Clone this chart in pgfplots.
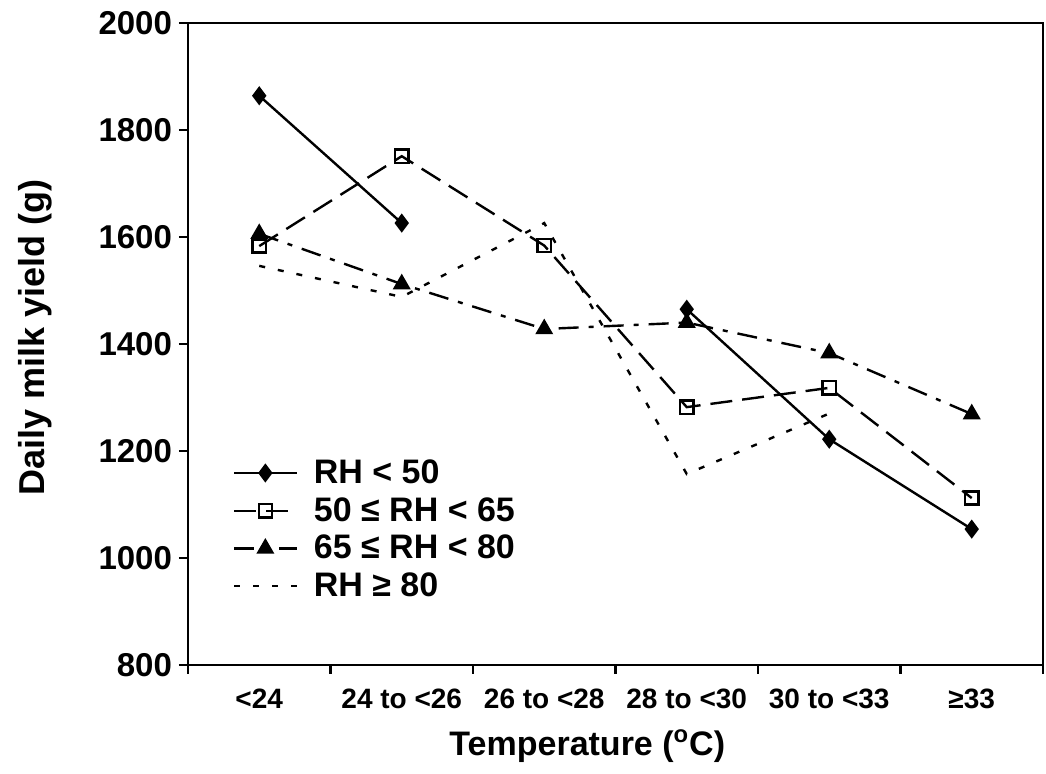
\documentclass[border=0pt]{standalone}
\usepackage{fontspec}
\setmainfont{Liberation Sans}
\usepackage{pgfplots}
\usepackage{pgfplotstable}
\pgfplotsset{compat=1.18}
\pgfplotstableread{
x a b c d
0 1864 1583 1606 1546
1 1626 1751 1512 1488
2 nan 1584 1428 1626
3 1465 1282 1440 1157
4 1222 1318 1383 1270
5 1054 1112 1269 nan
}\milk
\begin{document}
\begin{tikzpicture}
\path (-94pt,-54.5pt) rectangle (429pt,332.5pt);
\begin{axis}[
  at={(0,0)}, anchor=south west,
  scale only axis, width=427.5pt, height=321pt,
  xmin=-0.5, xmax=5.5, ymin=800, ymax=2000,
  xtick={0,...,5},
  xticklabels={{<24},{24 to <26},{26 to <28},{28 to <30},{30 to <33},{≥33}},
  major x tick style={draw=none},
  minor xtick={-0.5,0.5,...,5.5},
  ytick={800,1000,...,2000},
  tick align=outside, tick pos=left,
  major tick length=4.5pt, minor tick length=4.5pt,
  every tick/.style={line width=1.1pt, black},
  axis line style={line width=1.2pt},
  /pgf/number format/assume math mode=true,
  /pgf/number format/1000 sep={},
  yticklabel style={font=\bfseries\fontsize{16.5}{19}\selectfont},
  xticklabel style={font=\bfseries\fontsize{14}{16}\selectfont, yshift=-4pt},
  xlabel={Temperature (\textsuperscript{o}C)},
  ylabel={Daily milk yield (g)},
  xlabel style={font=\bfseries\fontsize{17}{20}\selectfont, at={(axis description cs:0.467,-0.126)}, anchor=center},
  ylabel style={font=\bfseries\fontsize{18}{21}\selectfont, at={(axis description cs:-0.179,0.51)}, anchor=center},
  unbounded coords=jump,
  legend style={draw=none, fill=none, at={(0.045,0.333)}, anchor=north west,
    font=\bfseries\fontsize{17}{19}\selectfont, row sep=1.5pt, column sep=6pt},
  legend cell align=left,
  legend image code/.code={\draw[mark repeat=2,mark phase=2] plot coordinates {(0cm,0cm)(0.55cm,0cm)(1.1cm,0cm)};},
]
\addplot[black, line width=1.2pt, mark=diamond*, mark size=3.8pt, mark options={solid}] table[x=x,y=a] {\milk};
\addlegendentry{RH < 50}
\addplot[black, line width=1.2pt, dash pattern=on 11pt off 5pt, mark=square, mark size=3.3pt, mark options={solid, fill=white}] table[x=x,y=b] {\milk};
\addlegendentry{50 ≤ RH < 65}
\addplot[black, line width=1.2pt, dash pattern=on 10pt off 5pt on 2.5pt off 5pt, mark=triangle*, mark size=4pt, mark options={solid}] table[x=x,y=c] {\milk};
\addlegendentry{65 ≤ RH < 80}
\addplot[black, line width=1.2pt, dash pattern=on 3pt off 6.5pt, no marks] table[x=x,y=d] {\milk};
\addlegendentry{RH ≥ 80}
\end{axis}
\end{tikzpicture}
\end{document}
